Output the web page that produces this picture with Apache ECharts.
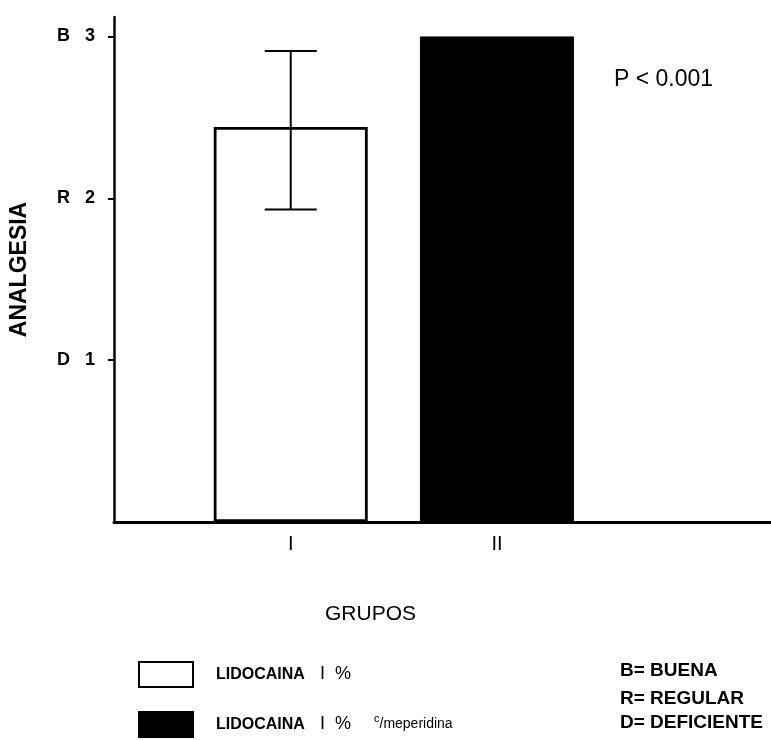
<!DOCTYPE html>
<html><head><meta charset="utf-8">
<script src="https://cdn.jsdelivr.net/npm/echarts@6/dist/echarts.min.js"></script>
<style>html,body{margin:0;padding:0;background:#fff}#c{width:771px;height:740px}</style>
</head><body><div id="c"></div>
<script>
// ---- data ----
const groupPos = [1, 2];
const groupLabels = ['I', 'II'];
const seriesNames = ['LIDOCAINA 1 %', 'LIDOCAINA 1 % c/meperidina'];
const meanValues = [2.44, 3.0];
const errLow = [1.93];
const errHigh = [2.91];
const yTickValues = [1, 2, 3];
const yTickLetters = ['D', 'R', 'B'];
const scaleNotes = ['B= BUENA', 'R= REGULAR', 'D= DEFICIENTE'];
const pText = 'P < 0.001';

const chart = echarts.init(document.getElementById('c'), null, {renderer: 'canvas'});
const F = 'Liberation Sans';

const option = {
  animation: false,
  backgroundColor: '#fff',
  grid: {left: 113, right: 0, top: 17, bottom: 218, containLabel: false},
  xAxis: {
    type: 'value', min: 0.143, max: 3.329,
    axisLine: {show: true, lineStyle: {color: '#000', width: 3}},
    axisTick: {show: false},
    splitLine: {show: false},
    axisLabel: {
      customValues: groupPos,
      formatter: v => { const i = groupPos.indexOf(Math.round(v)); return i >= 0 ? groupLabels[i] : ''; },
      color: '#000', fontFamily: F, fontSize: 20, margin: 12
    }
  },
  yAxis: {
    type: 'value', min: 0, max: 3.12,
    name: 'ANALGESIA', nameLocation: 'middle', nameRotate: 90, nameGap: 83,
    nameTextStyle: {color: '#000', fontFamily: F, fontWeight: 'bold', fontSize: 23},
    axisLine: {show: true, lineStyle: {color: '#000', width: 2.5}},
    axisTick: {show: true, customValues: yTickValues, length: 6, lineStyle: {color: '#000', width: 2}},
    splitLine: {show: false},
    axisLabel: {
      customValues: yTickValues,
      formatter: v => { const i = yTickValues.indexOf(Math.round(v)); return i >= 0 ? yTickLetters[i] + '   ' + yTickValues[i] : ''; },
      color: '#000', fontFamily: F, fontWeight: 'bold', fontSize: 18, margin: 19
    }
  },
  legend: {
    orient: 'vertical', left: 138, top: 661, height: 79, padding: 0,
    itemWidth: 54, itemHeight: 25, itemGap: 23,
    icon: 'rect',
    data: seriesNames,
    formatter: name => {
      if (name === seriesNames[0]) return '{a|LIDOCAINA}{b|I  %}';
      return '{a|LIDOCAINA}{b|I  %}{c|c}{d|/meperidina}';
    },
    textStyle: {
      padding: [0, 0, 0, 18],
      rich: {
        a: {fontFamily: F, fontWeight: 'bold', fontSize: 16, color: '#000', width: 104, lineHeight: 22},
        b: {fontFamily: F, fontSize: 18, color: '#000', width: 54, lineHeight: 22},
        c: {fontFamily: F, fontSize: 11, color: '#000', verticalAlign: 'top', lineHeight: 22},
        d: {fontFamily: F, fontSize: 14, color: '#000', lineHeight: 22}
      }
    }
  },
  series: [
    {
      name: seriesNames[0], type: 'bar', barWidth: 154, barGap: '-100%',
      itemStyle: {color: '#fff', borderColor: '#000', borderWidth: 2.8},
      data: [[groupPos[0], meanValues[0]]], z: 2
    },
    {
      name: seriesNames[1], type: 'bar', barWidth: 154, barGap: '-100%',
      itemStyle: {color: '#000', borderColor: '#000', borderWidth: 1},
      data: [[groupPos[1], meanValues[1]]], z: 2
    },
    {
      type: 'custom', name: 'err', z: 5,
      data: errLow.map((lo, i) => [groupPos[i], lo, errHigh[i]]),
      renderItem: (params, api) => {
        const x = api.value(0);
        const top = api.coord([x, api.value(2)]);
        const bot = api.coord([x, api.value(1)]);
        const hw = 26;
        const st = {stroke: '#000', lineWidth: 2};
        return {type: 'group', children: [
          {type: 'line', shape: {x1: top[0], y1: top[1], x2: bot[0], y2: bot[1]}, style: st},
          {type: 'line', shape: {x1: top[0] - hw, y1: top[1], x2: top[0] + hw, y2: top[1]}, style: st},
          {type: 'line', shape: {x1: bot[0] - hw, y1: bot[1], x2: bot[0] + hw, y2: bot[1]}, style: st}
        ]};
      }
    }
  ],
  graphic: [
    {type: 'text', left: 614, top: 68, style: {text: pText, font: '23px "Liberation Sans"', fill: '#000'}},
    {type: 'text', left: 325, top: 604, style: {text: 'GRUPOS', font: '21px "Liberation Sans"', fill: '#000'}},
    {type: 'text', left: 620, top: 661, style: {text: scaleNotes[0], font: 'bold 19px "Liberation Sans"', fill: '#000'}},
    {type: 'text', left: 620, top: 689, style: {text: scaleNotes[1], font: 'bold 19px "Liberation Sans"', fill: '#000'}},
    {type: 'text', left: 620, top: 713, style: {text: scaleNotes[2], font: 'bold 19px "Liberation Sans"', fill: '#000'}}
  ]
};
chart.setOption(option);
</script>
</body></html>
